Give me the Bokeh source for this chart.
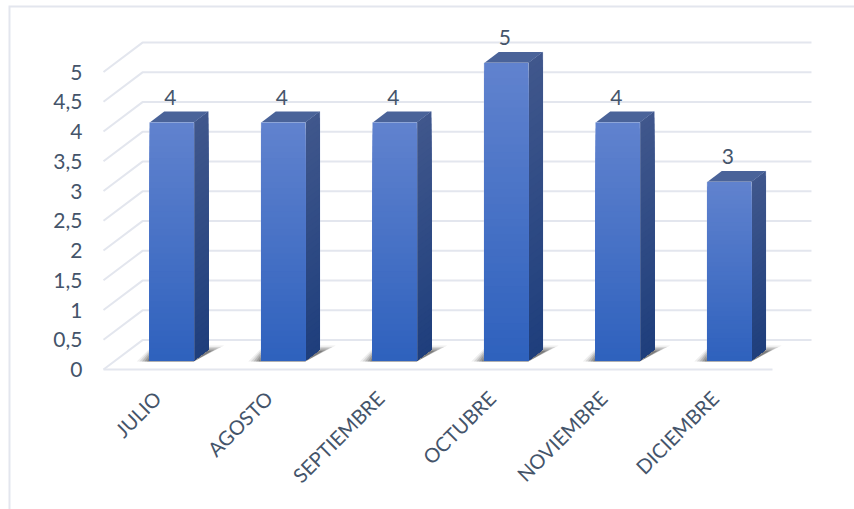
from bokeh.plotting import figure
from bokeh.embed import file_html
from bokeh.resources import INLINE
from bokeh.models import Range1d, FixedTicker, LinearAxis
from bokeh.core.properties import value as V

months = ["JULIO", "AGOSTO", "SEPTIEMBRE", "OCTUBRE", "NOVIEMBRE", "DICIEMBRE"]
values = [4, 4, 4, 5, 4, 3]
y_ticks = [0, 0.5, 1, 1.5, 2, 2.5, 3, 3.5, 4, 4.5, 5]

FONT = "Lato"
TXT = "#44546A"
GRID = "#E3E6EE"
W, H = 854, 509
L, T = 8, 5
FRONT_X, FRONT_Y = 103, 369        # where category -0.5 / value 0 sit in the page
PXX, PXY = 111.5, 59.5             # pixels per category / per value unit
DX, DY = 39 / PXX, 29.4 / PXY      # wall depth in data units
BX, BY = 12.5 / PXX, 9 / PXY       # bar front plane shift
SX, SY = 14.5 / PXX, 11 / PXY      # bar depth
HW = 22 / PXX

x0 = -0.5
p = figure(width=W, height=H, output_backend="svg", toolbar_location=None,
           x_range=Range1d(x0 + (L - FRONT_X) / PXX, x0 + (W - FRONT_X) / PXX),
           y_range=Range1d((FRONT_Y - H) / PXY, (FRONT_Y - T) / PXY),
           min_border_left=L, min_border_bottom=0, min_border_top=T, min_border_right=0,
           x_axis_type=None, y_axis_type=None)
p.outline_line_color = None
p.grid.visible = False
p.background_fill_color = "white"
p.border_fill_color = "white"

yax = LinearAxis(ticker=FixedTicker(ticks=y_ticks), fixed_location=x0,
                 major_label_overrides={t: f"{t:g}".replace(".", ",") for t in y_ticks})
label_shift = 2 / PXX
tick_pos = [i - label_shift for i in range(len(months))]
xax = LinearAxis(ticker=FixedTicker(ticks=tick_pos), fixed_location=0,
                 major_label_overrides={t: m for t, m in zip(tick_pos, months)})
for ax in (xax, yax):
    ax.axis_line_color = None
    ax.major_tick_line_color = None
    ax.minor_tick_line_color = None
    ax.major_tick_in = 0
    ax.major_tick_out = 0
    ax.major_label_text_font = FONT
    ax.major_label_text_color = TXT
yax.major_label_text_font_size = "21px"
xax.major_label_text_font_size = "20px"
yax.major_label_standoff = 21
xax.major_label_standoff = 25
xax.major_label_orientation = 0.785
p.add_layout(yax, "left")
p.add_layout(xax, "below")

# outer chart border: left and top edges of the frame
xl_edge, xr_edge = p.x_range.start, p.x_range.end
yb_edge, yt_edge = p.y_range.start, p.y_range.end
p.line([xl_edge, xl_edge, xr_edge], [yb_edge, yt_edge, yt_edge], line_color=GRID, line_width=4)

# walls / gridlines
n = len(months)
x_front_end = n - 0.5
for t in y_ticks:
    p.line([x0, x0 + DX, x_front_end + DX], [t, t + DY, t + DY], line_color=GRID, line_width=2)
p.line([x0, x_front_end], [0, 0], line_color=GRID, line_width=2)


def mix(a, b, f):
    c = [round(a[k] + (b[k] - a[k]) * f) for k in range(3)]
    return "#%02x%02x%02x" % tuple(c)


FRONT_T, FRONT_B = (0x60, 0x82, 0xCE), (0x2E, 0x61, 0xBD)
SIDE_T, SIDE_B = (0x40, 0x57, 0x8C), (0x1E, 0x3E, 0x7C)
TOP = "#4A6399"
EDGE = "#C9D3E8"
STEPS = 40

for i, v in enumerate(values):
    xl, xr = i + BX - HW, i + BX + HW
    b = BY
    t = v + BY
    # floor shadow, soft edge built from nested layers
    for g, alpha in ((1.0, 0.08), (0.8, 0.13), (0.6, 0.18), (0.4, 0.22), (0.2, 0.28)):
        p.patch([xl - 13 * g / PXX, xl + 3 / PXX, xr + SX + 16 * g / PXX, xr],
                [b - 1 / PXY, b + (8 + 7 * g) / PXY, b + (8 + 7 * g) / PXY, b - 1 / PXY],
                fill_color="#303030", fill_alpha=alpha, line_color=None)
    # side edge halo, side and top
    p.patch([xr, xr + SX, xr + SX, xr], [b, b + SY, t + SY, t], fill_color=mix(SIDE_T, SIDE_B, 1),
            line_color=EDGE, line_width=1, line_alpha=0.8)
    for k in range(STEPS):
        f = k / STEPS
        y = t - (t - b) * f
        c = mix(SIDE_T, SIDE_B, f)
        p.patch([xr, xr + SX, xr + SX, xr], [b, b + SY, y + SY, y], fill_color=c, line_color=None)
    p.patch([xl, xl + SX, xr + SX, xr], [t, t + SY, t + SY, t], fill_color=TOP, line_color=None)
    # front
    p.quad(left=[xl], right=[xr], bottom=[b], top=[t], fill_color=mix(FRONT_T, FRONT_B, 0),
           line_color=EDGE, line_width=1, line_alpha=0.8)
    for k in range(STEPS):
        f = k / STEPS
        y = t - (t - b) * f
        p.quad(left=[xl], right=[xr], bottom=[b], top=[y], fill_color=mix(FRONT_T, FRONT_B, f), line_color=None)

p.text(x=[i + BX - 1.5 / PXX for i in range(n)], y=[v + BY + 25.5 / PXY for v in values],
       text=[str(v) for v in values], text_font=V(FONT), text_font_size="21px",
       text_color=TXT, text_align="center", text_baseline="alphabetic")

open("out.html", "w").write(file_html(p, INLINE))
